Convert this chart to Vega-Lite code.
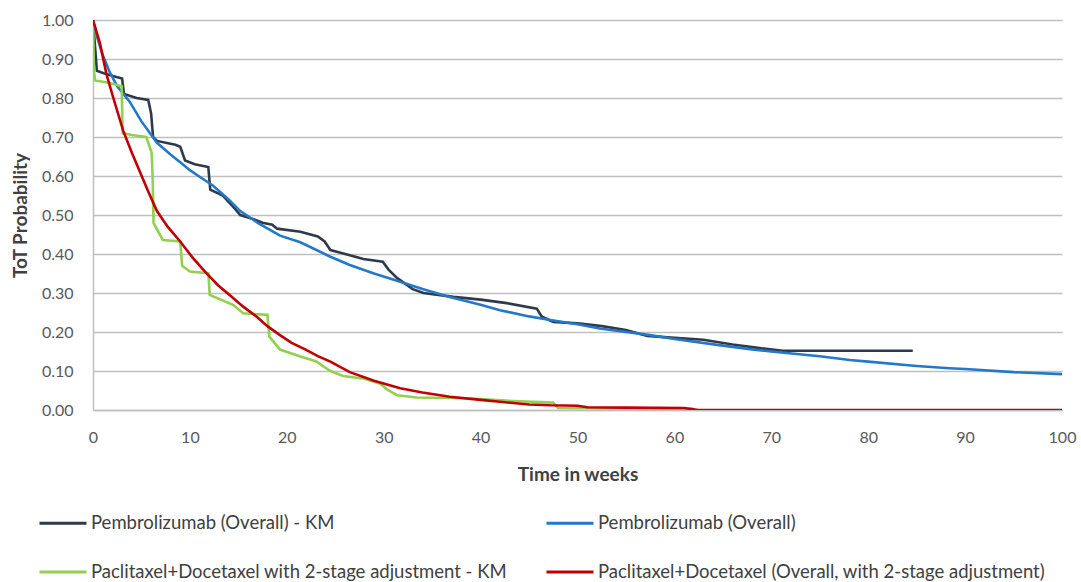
{
  "$schema": "https://vega.github.io/schema/vega-lite/v6.json",
  "width": 969,
  "height": 390,
  "autosize": {"type": "none"},
  "padding": {"left": 93, "top": 20, "right": 19, "bottom": 172},
  "background": "white",
  "config": {
    "font": "Lato",
    "view": {"stroke": null},
    "axis": {"labelFont": "Lato", "titleFont": "Lato", "labelColor": "#595959", "titleColor": "#404040"}
  },
  "datasets": {
    "curves": [
      {"s": "Pembrolizumab (Overall) - KM", "t": 0, "p": 1.0},
      {"s": "Pembrolizumab (Overall) - KM", "t": 0.4, "p": 0.87},
      {"s": "Pembrolizumab (Overall) - KM", "t": 1.5, "p": 0.86},
      {"s": "Pembrolizumab (Overall) - KM", "t": 3.0, "p": 0.85},
      {"s": "Pembrolizumab (Overall) - KM", "t": 3.2, "p": 0.81},
      {"s": "Pembrolizumab (Overall) - KM", "t": 4.5, "p": 0.8},
      {"s": "Pembrolizumab (Overall) - KM", "t": 5.7, "p": 0.795},
      {"s": "Pembrolizumab (Overall) - KM", "t": 6.0, "p": 0.76},
      {"s": "Pembrolizumab (Overall) - KM", "t": 6.2, "p": 0.7},
      {"s": "Pembrolizumab (Overall) - KM", "t": 6.6, "p": 0.69},
      {"s": "Pembrolizumab (Overall) - KM", "t": 8.5, "p": 0.68},
      {"s": "Pembrolizumab (Overall) - KM", "t": 9.0, "p": 0.675},
      {"s": "Pembrolizumab (Overall) - KM", "t": 9.5, "p": 0.64},
      {"s": "Pembrolizumab (Overall) - KM", "t": 10.5, "p": 0.63},
      {"s": "Pembrolizumab (Overall) - KM", "t": 11.9, "p": 0.623},
      {"s": "Pembrolizumab (Overall) - KM", "t": 12.1, "p": 0.565},
      {"s": "Pembrolizumab (Overall) - KM", "t": 13.4, "p": 0.55},
      {"s": "Pembrolizumab (Overall) - KM", "t": 14.5, "p": 0.52},
      {"s": "Pembrolizumab (Overall) - KM", "t": 15.2, "p": 0.5},
      {"s": "Pembrolizumab (Overall) - KM", "t": 16.5, "p": 0.49},
      {"s": "Pembrolizumab (Overall) - KM", "t": 17.5, "p": 0.48},
      {"s": "Pembrolizumab (Overall) - KM", "t": 18.5, "p": 0.475},
      {"s": "Pembrolizumab (Overall) - KM", "t": 19.0, "p": 0.465},
      {"s": "Pembrolizumab (Overall) - KM", "t": 21.4, "p": 0.457},
      {"s": "Pembrolizumab (Overall) - KM", "t": 23.2, "p": 0.445},
      {"s": "Pembrolizumab (Overall) - KM", "t": 23.9, "p": 0.432},
      {"s": "Pembrolizumab (Overall) - KM", "t": 24.5, "p": 0.41},
      {"s": "Pembrolizumab (Overall) - KM", "t": 26.5, "p": 0.397},
      {"s": "Pembrolizumab (Overall) - KM", "t": 27.9, "p": 0.387},
      {"s": "Pembrolizumab (Overall) - KM", "t": 29.9, "p": 0.38},
      {"s": "Pembrolizumab (Overall) - KM", "t": 30.5, "p": 0.36},
      {"s": "Pembrolizumab (Overall) - KM", "t": 31.4, "p": 0.338},
      {"s": "Pembrolizumab (Overall) - KM", "t": 33.0, "p": 0.31},
      {"s": "Pembrolizumab (Overall) - KM", "t": 34.1, "p": 0.3},
      {"s": "Pembrolizumab (Overall) - KM", "t": 37.2, "p": 0.29},
      {"s": "Pembrolizumab (Overall) - KM", "t": 40.0, "p": 0.283},
      {"s": "Pembrolizumab (Overall) - KM", "t": 42.7, "p": 0.274},
      {"s": "Pembrolizumab (Overall) - KM", "t": 45.8, "p": 0.26},
      {"s": "Pembrolizumab (Overall) - KM", "t": 46.3, "p": 0.24},
      {"s": "Pembrolizumab (Overall) - KM", "t": 47.5, "p": 0.226},
      {"s": "Pembrolizumab (Overall) - KM", "t": 50.0, "p": 0.222},
      {"s": "Pembrolizumab (Overall) - KM", "t": 52.5, "p": 0.215},
      {"s": "Pembrolizumab (Overall) - KM", "t": 55.0, "p": 0.205},
      {"s": "Pembrolizumab (Overall) - KM", "t": 57.2, "p": 0.19},
      {"s": "Pembrolizumab (Overall) - KM", "t": 60.0, "p": 0.185},
      {"s": "Pembrolizumab (Overall) - KM", "t": 63.0, "p": 0.18},
      {"s": "Pembrolizumab (Overall) - KM", "t": 66.0, "p": 0.168},
      {"s": "Pembrolizumab (Overall) - KM", "t": 69.0, "p": 0.158},
      {"s": "Pembrolizumab (Overall) - KM", "t": 71.2, "p": 0.152},
      {"s": "Pembrolizumab (Overall) - KM", "t": 84.6, "p": 0.152},

      {"s": "Pembrolizumab (Overall)", "t": 0, "p": 1.0},
      {"s": "Pembrolizumab (Overall)", "t": 0.5, "p": 0.95},
      {"s": "Pembrolizumab (Overall)", "t": 1.0, "p": 0.91},
      {"s": "Pembrolizumab (Overall)", "t": 1.75, "p": 0.865},
      {"s": "Pembrolizumab (Overall)", "t": 2.5, "p": 0.83},
      {"s": "Pembrolizumab (Overall)", "t": 3.8, "p": 0.79},
      {"s": "Pembrolizumab (Overall)", "t": 5.0, "p": 0.74},
      {"s": "Pembrolizumab (Overall)", "t": 6.6, "p": 0.685},
      {"s": "Pembrolizumab (Overall)", "t": 8.0, "p": 0.655},
      {"s": "Pembrolizumab (Overall)", "t": 9.0, "p": 0.635},
      {"s": "Pembrolizumab (Overall)", "t": 10.0, "p": 0.615},
      {"s": "Pembrolizumab (Overall)", "t": 11.0, "p": 0.598},
      {"s": "Pembrolizumab (Overall)", "t": 12.4, "p": 0.575},
      {"s": "Pembrolizumab (Overall)", "t": 14.0, "p": 0.54},
      {"s": "Pembrolizumab (Overall)", "t": 15.2, "p": 0.51},
      {"s": "Pembrolizumab (Overall)", "t": 17.0, "p": 0.48},
      {"s": "Pembrolizumab (Overall)", "t": 19.3, "p": 0.447},
      {"s": "Pembrolizumab (Overall)", "t": 21.4, "p": 0.43},
      {"s": "Pembrolizumab (Overall)", "t": 24.5, "p": 0.393},
      {"s": "Pembrolizumab (Overall)", "t": 26.5, "p": 0.372},
      {"s": "Pembrolizumab (Overall)", "t": 29.0, "p": 0.35},
      {"s": "Pembrolizumab (Overall)", "t": 31.7, "p": 0.329},
      {"s": "Pembrolizumab (Overall)", "t": 34.0, "p": 0.31},
      {"s": "Pembrolizumab (Overall)", "t": 36.8, "p": 0.29},
      {"s": "Pembrolizumab (Overall)", "t": 40.0, "p": 0.27},
      {"s": "Pembrolizumab (Overall)", "t": 42.0, "p": 0.256},
      {"s": "Pembrolizumab (Overall)", "t": 45.0, "p": 0.24},
      {"s": "Pembrolizumab (Overall)", "t": 47.2, "p": 0.231},
      {"s": "Pembrolizumab (Overall)", "t": 50.0, "p": 0.22},
      {"s": "Pembrolizumab (Overall)", "t": 52.3, "p": 0.209},
      {"s": "Pembrolizumab (Overall)", "t": 55.0, "p": 0.2},
      {"s": "Pembrolizumab (Overall)", "t": 57.5, "p": 0.192},
      {"s": "Pembrolizumab (Overall)", "t": 60.0, "p": 0.182},
      {"s": "Pembrolizumab (Overall)", "t": 65.0, "p": 0.165},
      {"s": "Pembrolizumab (Overall)", "t": 67.8, "p": 0.156},
      {"s": "Pembrolizumab (Overall)", "t": 70.0, "p": 0.15},
      {"s": "Pembrolizumab (Overall)", "t": 75.0, "p": 0.138},
      {"s": "Pembrolizumab (Overall)", "t": 78.1, "p": 0.128},
      {"s": "Pembrolizumab (Overall)", "t": 80.0, "p": 0.124},
      {"s": "Pembrolizumab (Overall)", "t": 85.0, "p": 0.113},
      {"s": "Pembrolizumab (Overall)", "t": 88.4, "p": 0.107},
      {"s": "Pembrolizumab (Overall)", "t": 90.0, "p": 0.105},
      {"s": "Pembrolizumab (Overall)", "t": 95.0, "p": 0.097},
      {"s": "Pembrolizumab (Overall)", "t": 100.0, "p": 0.092},

      {"s": "Paclitaxel+Docetaxel with 2-stage adjustment - KM", "t": 0, "p": 1.0},
      {"s": "Paclitaxel+Docetaxel with 2-stage adjustment - KM", "t": 0.1, "p": 0.87},
      {"s": "Paclitaxel+Docetaxel with 2-stage adjustment - KM", "t": 0.2, "p": 0.845},
      {"s": "Paclitaxel+Docetaxel with 2-stage adjustment - KM", "t": 1.5, "p": 0.84},
      {"s": "Paclitaxel+Docetaxel with 2-stage adjustment - KM", "t": 2.96, "p": 0.83},
      {"s": "Paclitaxel+Docetaxel with 2-stage adjustment - KM", "t": 3.06, "p": 0.71},
      {"s": "Paclitaxel+Docetaxel with 2-stage adjustment - KM", "t": 4.0, "p": 0.705},
      {"s": "Paclitaxel+Docetaxel with 2-stage adjustment - KM", "t": 5.5, "p": 0.7},
      {"s": "Paclitaxel+Docetaxel with 2-stage adjustment - KM", "t": 6.05, "p": 0.66},
      {"s": "Paclitaxel+Docetaxel with 2-stage adjustment - KM", "t": 6.15, "p": 0.6},
      {"s": "Paclitaxel+Docetaxel with 2-stage adjustment - KM", "t": 6.25, "p": 0.48},
      {"s": "Paclitaxel+Docetaxel with 2-stage adjustment - KM", "t": 7.2, "p": 0.436},
      {"s": "Paclitaxel+Docetaxel with 2-stage adjustment - KM", "t": 9.0, "p": 0.432},
      {"s": "Paclitaxel+Docetaxel with 2-stage adjustment - KM", "t": 9.2, "p": 0.37},
      {"s": "Paclitaxel+Docetaxel with 2-stage adjustment - KM", "t": 10.0, "p": 0.355},
      {"s": "Paclitaxel+Docetaxel with 2-stage adjustment - KM", "t": 11.9, "p": 0.351},
      {"s": "Paclitaxel+Docetaxel with 2-stage adjustment - KM", "t": 12.05, "p": 0.295},
      {"s": "Paclitaxel+Docetaxel with 2-stage adjustment - KM", "t": 13.0, "p": 0.285},
      {"s": "Paclitaxel+Docetaxel with 2-stage adjustment - KM", "t": 14.5, "p": 0.269},
      {"s": "Paclitaxel+Docetaxel with 2-stage adjustment - KM", "t": 15.5, "p": 0.248},
      {"s": "Paclitaxel+Docetaxel with 2-stage adjustment - KM", "t": 18.0, "p": 0.244},
      {"s": "Paclitaxel+Docetaxel with 2-stage adjustment - KM", "t": 18.2, "p": 0.188},
      {"s": "Paclitaxel+Docetaxel with 2-stage adjustment - KM", "t": 19.3, "p": 0.155},
      {"s": "Paclitaxel+Docetaxel with 2-stage adjustment - KM", "t": 21.4, "p": 0.137},
      {"s": "Paclitaxel+Docetaxel with 2-stage adjustment - KM", "t": 23.0, "p": 0.125},
      {"s": "Paclitaxel+Docetaxel with 2-stage adjustment - KM", "t": 24.5, "p": 0.1},
      {"s": "Paclitaxel+Docetaxel with 2-stage adjustment - KM", "t": 25.8, "p": 0.087},
      {"s": "Paclitaxel+Docetaxel with 2-stage adjustment - KM", "t": 28.0, "p": 0.08},
      {"s": "Paclitaxel+Docetaxel with 2-stage adjustment - KM", "t": 29.6, "p": 0.068},
      {"s": "Paclitaxel+Docetaxel with 2-stage adjustment - KM", "t": 30.5, "p": 0.05},
      {"s": "Paclitaxel+Docetaxel with 2-stage adjustment - KM", "t": 31.4, "p": 0.038},
      {"s": "Paclitaxel+Docetaxel with 2-stage adjustment - KM", "t": 33.4, "p": 0.032},
      {"s": "Paclitaxel+Docetaxel with 2-stage adjustment - KM", "t": 38.6, "p": 0.03},
      {"s": "Paclitaxel+Docetaxel with 2-stage adjustment - KM", "t": 43.4, "p": 0.023},
      {"s": "Paclitaxel+Docetaxel with 2-stage adjustment - KM", "t": 47.5, "p": 0.019},
      {"s": "Paclitaxel+Docetaxel with 2-stage adjustment - KM", "t": 48.0, "p": 0.005},
      {"s": "Paclitaxel+Docetaxel with 2-stage adjustment - KM", "t": 62.0, "p": 0.003},

      {"s": "Paclitaxel+Docetaxel (Overall, with 2-stage adjustment)", "t": 0, "p": 1.0},
      {"s": "Paclitaxel+Docetaxel (Overall, with 2-stage adjustment)", "t": 0.72, "p": 0.94},
      {"s": "Paclitaxel+Docetaxel (Overall, with 2-stage adjustment)", "t": 1.4, "p": 0.86},
      {"s": "Paclitaxel+Docetaxel (Overall, with 2-stage adjustment)", "t": 2.1, "p": 0.8},
      {"s": "Paclitaxel+Docetaxel (Overall, with 2-stage adjustment)", "t": 3.13, "p": 0.715},
      {"s": "Paclitaxel+Docetaxel (Overall, with 2-stage adjustment)", "t": 4.0, "p": 0.66},
      {"s": "Paclitaxel+Docetaxel (Overall, with 2-stage adjustment)", "t": 4.85, "p": 0.61},
      {"s": "Paclitaxel+Docetaxel (Overall, with 2-stage adjustment)", "t": 5.7, "p": 0.56},
      {"s": "Paclitaxel+Docetaxel (Overall, with 2-stage adjustment)", "t": 6.6, "p": 0.51},
      {"s": "Paclitaxel+Docetaxel (Overall, with 2-stage adjustment)", "t": 7.7, "p": 0.47},
      {"s": "Paclitaxel+Docetaxel (Overall, with 2-stage adjustment)", "t": 9.0, "p": 0.432},
      {"s": "Paclitaxel+Docetaxel (Overall, with 2-stage adjustment)", "t": 10.3, "p": 0.39},
      {"s": "Paclitaxel+Docetaxel (Overall, with 2-stage adjustment)", "t": 11.7, "p": 0.351},
      {"s": "Paclitaxel+Docetaxel (Overall, with 2-stage adjustment)", "t": 12.9, "p": 0.32},
      {"s": "Paclitaxel+Docetaxel (Overall, with 2-stage adjustment)", "t": 14.1, "p": 0.295},
      {"s": "Paclitaxel+Docetaxel (Overall, with 2-stage adjustment)", "t": 15.5, "p": 0.265},
      {"s": "Paclitaxel+Docetaxel (Overall, with 2-stage adjustment)", "t": 16.9, "p": 0.239},
      {"s": "Paclitaxel+Docetaxel (Overall, with 2-stage adjustment)", "t": 18.0, "p": 0.215},
      {"s": "Paclitaxel+Docetaxel (Overall, with 2-stage adjustment)", "t": 19.3, "p": 0.192},
      {"s": "Paclitaxel+Docetaxel (Overall, with 2-stage adjustment)", "t": 20.5, "p": 0.172},
      {"s": "Paclitaxel+Docetaxel (Overall, with 2-stage adjustment)", "t": 22.0, "p": 0.154},
      {"s": "Paclitaxel+Docetaxel (Overall, with 2-stage adjustment)", "t": 23.2, "p": 0.138},
      {"s": "Paclitaxel+Docetaxel (Overall, with 2-stage adjustment)", "t": 24.5, "p": 0.124},
      {"s": "Paclitaxel+Docetaxel (Overall, with 2-stage adjustment)", "t": 26.5, "p": 0.097},
      {"s": "Paclitaxel+Docetaxel (Overall, with 2-stage adjustment)", "t": 29.0, "p": 0.075},
      {"s": "Paclitaxel+Docetaxel (Overall, with 2-stage adjustment)", "t": 31.7, "p": 0.056},
      {"s": "Paclitaxel+Docetaxel (Overall, with 2-stage adjustment)", "t": 34.0, "p": 0.045},
      {"s": "Paclitaxel+Docetaxel (Overall, with 2-stage adjustment)", "t": 36.8, "p": 0.034},
      {"s": "Paclitaxel+Docetaxel (Overall, with 2-stage adjustment)", "t": 40.0, "p": 0.026},
      {"s": "Paclitaxel+Docetaxel (Overall, with 2-stage adjustment)", "t": 42.0, "p": 0.021},
      {"s": "Paclitaxel+Docetaxel (Overall, with 2-stage adjustment)", "t": 45.0, "p": 0.014},
      {"s": "Paclitaxel+Docetaxel (Overall, with 2-stage adjustment)", "t": 47.2, "p": 0.012},
      {"s": "Paclitaxel+Docetaxel (Overall, with 2-stage adjustment)", "t": 50.0, "p": 0.011},
      {"s": "Paclitaxel+Docetaxel (Overall, with 2-stage adjustment)", "t": 51.0, "p": 0.007},
      {"s": "Paclitaxel+Docetaxel (Overall, with 2-stage adjustment)", "t": 55.0, "p": 0.006},
      {"s": "Paclitaxel+Docetaxel (Overall, with 2-stage adjustment)", "t": 61.0, "p": 0.005},
      {"s": "Paclitaxel+Docetaxel (Overall, with 2-stage adjustment)", "t": 62.5, "p": 0.0},
      {"s": "Paclitaxel+Docetaxel (Overall, with 2-stage adjustment)", "t": 100.0, "p": 0.0}
    ]
  },
  "data": {"name": "curves"},
  "mark": {"type": "line", "strokeWidth": 2.6, "interpolate": "linear", "clip": true},
  "encoding": {
    "x": {
      "field": "t", "type": "quantitative",
      "scale": {"domain": [0, 100], "nice": false, "zero": true},
      "axis": {
        "title": "Time in weeks", "titleFontSize": 19, "titleFontWeight": "bold", "titlePadding": 20,
        "values": [0, 10, 20, 30, 40, 50, 60, 70, 80, 90, 100],
        "labelFontSize": 16, "labelPadding": 19, "ticks": false, "labelFlush": false,
        "domain": true, "domainColor": "#BFBFBF", "domainWidth": 1.5,
        "grid": false
      }
    },
    "y": {
      "field": "p", "type": "quantitative",
      "scale": {"domain": [0, 1], "nice": false},
      "axis": {
        "title": "ToT Probability", "titleFontSize": 19, "titleFontWeight": "bold", "titlePadding": 11,
        "values": [0, 0.1, 0.2, 0.3, 0.4, 0.5, 0.6, 0.7, 0.8, 0.9, 1.0],
        "format": ".2f", "labelFontSize": 16, "labelPadding": 20, "ticks": false, "labelFlush": false,
        "domain": true, "domainColor": "#BFBFBF", "domainWidth": 1.5,
        "grid": true, "gridColor": "#BFBFBF", "gridWidth": 1.5
      }
    },
    "color": {
      "field": "s", "type": "nominal",
      "scale": {
        "domain": ["Pembrolizumab (Overall) - KM", "Paclitaxel+Docetaxel with 2-stage adjustment - KM", "Pembrolizumab (Overall)", "Paclitaxel+Docetaxel (Overall, with 2-stage adjustment)"],
        "range": ["#2E3A4C", "#92D050", "#2478C8", "#C00000"]
      },
      "legend": {
        "title": null, "orient": "none", "legendX": -55, "legendY": 478,
        "columns": 2, "columnPadding": 32, "rowPadding": 14,
        "symbolType": "stroke", "symbolSize": 2209, "symbolStrokeWidth": 3,
        "labelFontSize": 18.5, "labelFont": "Lato", "labelColor": "#404040", "labelOffset": 3, "labelLimit": 600
      }
    }
  }
}
